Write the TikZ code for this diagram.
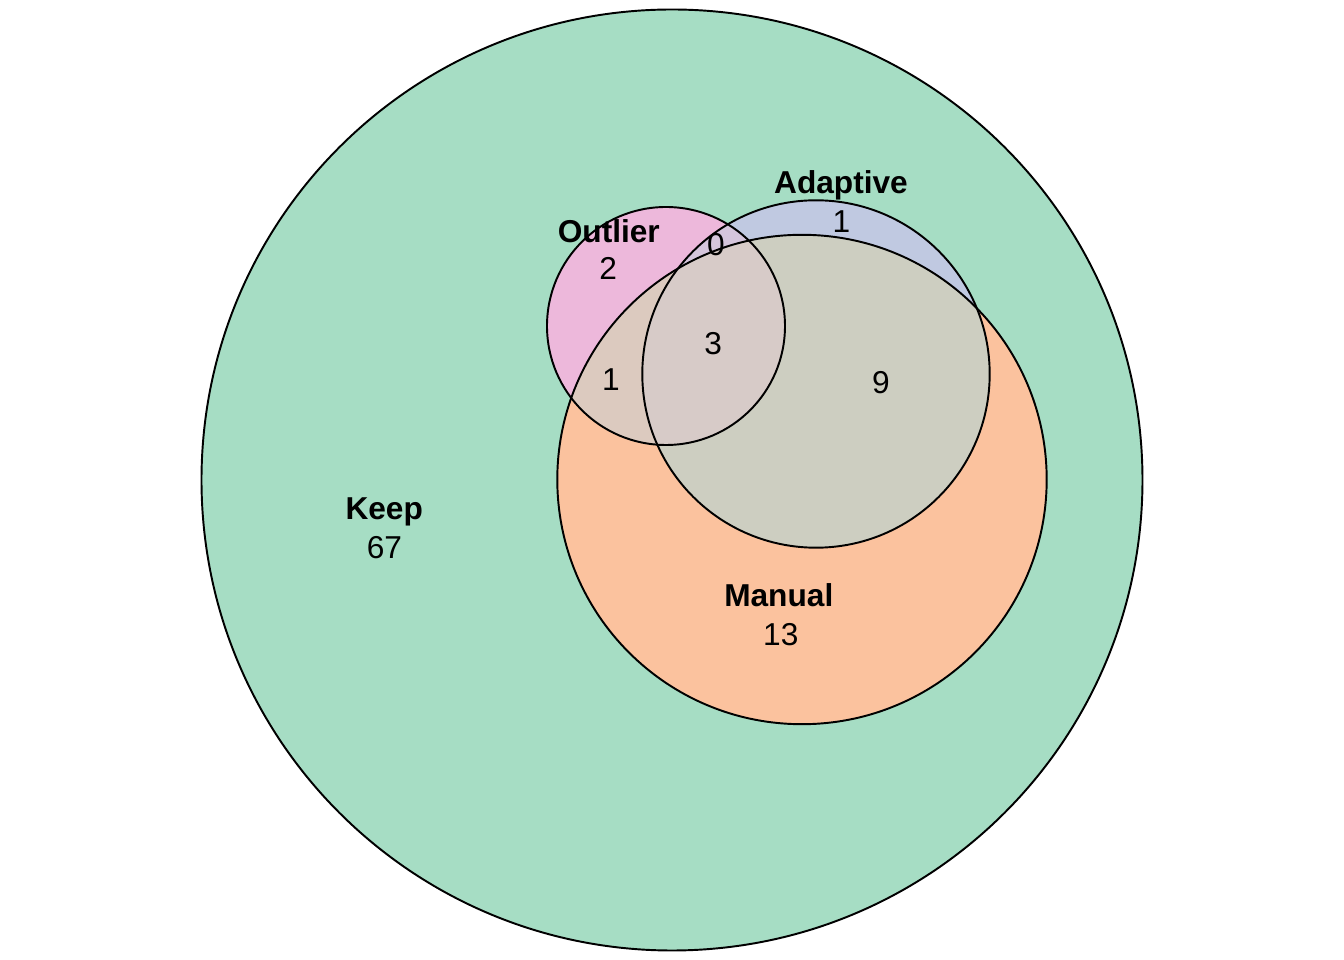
\documentclass[tikz,border=0pt]{standalone}
\usepackage{fontspec}
\setmainfont{Liberation Sans}
\usetikzlibrary{positioning}

\definecolor{keepgreen}{HTML}{A6DDC4}
\definecolor{manualorange}{HTML}{FBC29E}
\definecolor{adaptblue}{HTML}{C0C9E1}
\definecolor{outlierpink}{HTML}{EDB8DB}
\definecolor{outadapt}{HTML}{D5C5DC}
\definecolor{outmanual}{HTML}{DCCABF}
\definecolor{adaptmanual}{HTML}{CDCEC1}
\definecolor{allthree}{HTML}{D7CBC8}

\def\keepset{(672,480) circle (470.5)}
\def\manualset{(802,480.5) circle (244.7)}
\def\adaptset{(816,586) circle (173.7)}
\def\outlierset{(666,634) circle (119)}

\begin{document}
\begin{tikzpicture}[x=0.01cm, y=0.01cm,
  setname/.style={anchor=base, inner sep=0pt, font=\fontsize{9.0}{10.8}\selectfont\bfseries},
  count/.style={anchor=base, inner sep=0pt, font=\fontsize{9.0}{10.8}\selectfont},
  ring/.style={draw=black, line width=0.55pt}
]
\useasboundingbox (0,0) rectangle (1344,960);

% single sets
\fill[keepgreen] \keepset;
\fill[manualorange] \manualset;
\fill[adaptblue] \adaptset;
\fill[outlierpink] \outlierset;

% overlaps
\begin{scope}
  \clip \outlierset;
  \fill[outmanual] \manualset;
  \fill[outadapt] \adaptset;
  \clip \adaptset;
  \fill[allthree] \manualset;
\end{scope}
\begin{scope}
  \clip \adaptset;
  \clip \manualset;
  \fill[adaptmanual] (0,0) rectangle (1344,960);
  \fill[allthree] \outlierset;
\end{scope}

% outlines
\draw[ring] \keepset;
\draw[ring] \manualset;
\draw[ring] \adaptset;
\draw[ring] \outlierset;

% labels
\node[setname] (keep) at (384.2,440.7) {Keep};
\node[count] (keepn) at (384.5,401) {67};
\node[setname] (manual) at (778.8,353.3) {Manual};
\node[count] (manualn) at (780.8,314) {13};
\node[setname] (adaptive) at (841,766.5) {Adaptive};
\node[count] (adaptiven) at (841.5,727.3) {1};
\node[setname] (outlier) at (608.8,717.7) {Outlier};
\node[count] (outliern) at (608.3,680) {2};
\node[count] (outadaptn) at (716,704) {0};
\node[count] (alln) at (713.3,605.7) {3};
\node[count] (outmanualn) at (611,569.3) {1};
\node[count] (adaptmanualn) at (881,566) {9};

\end{tikzpicture}
\end{document}
